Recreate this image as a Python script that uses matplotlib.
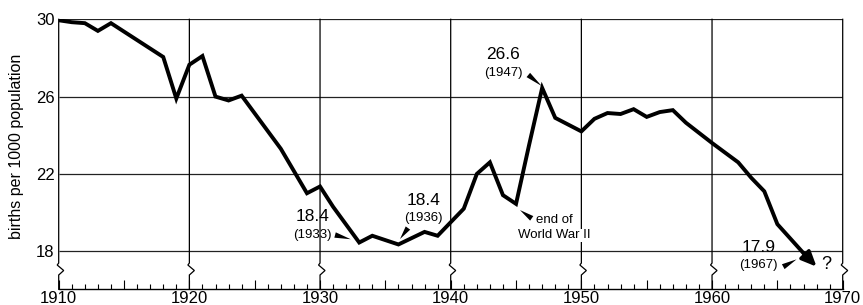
import matplotlib
matplotlib.use("Agg")
import matplotlib.pyplot as plt

plt.rcParams['font.family'] = ['Liberation Sans', 'DejaVu Sans']

# Birth rate, births per 1000 population
years = [1910, 1911, 1912, 1913, 1914, 1918, 1919, 1920, 1921, 1922, 1923, 1924,
         1927, 1929, 1930, 1931, 1933, 1934, 1936, 1938, 1939, 1941, 1942, 1943,
         1944, 1945, 1946, 1947, 1948, 1950, 1951, 1952, 1953, 1954, 1955, 1956,
         1957, 1958, 1960, 1962, 1963, 1964, 1965, 1966, 1967]
rate = [29.95, 29.85, 29.8, 29.4, 29.8, 28.05, 25.9, 27.65, 28.1, 26.0, 25.8, 26.05,
        23.3, 21.0, 21.35, 20.3, 18.45, 18.8, 18.35, 19.0, 18.8, 20.2, 22.0, 22.6,
        20.9, 20.45, 23.5, 26.45, 24.9, 24.2, 24.85, 25.15, 25.1, 25.35, 24.95, 25.2,
        25.3, 24.65, 23.6, 22.6, 21.8, 21.1, 19.4, 18.65, 17.9]
trend_tip = (1968.0, 17.2)   # where the arrow ("?") points

y_ticks = [18, 22, 26, 30]
x_labels = [1910, 1920, 1930, 1940, 1950, 1960, 1970]

y_bottom = 16.03
px_x = 1 / 13.067   # one pixel in years
px_y = 1 / 19.33    # one pixel in rate units

fig = plt.figure(figsize=(8.63, 3.05), dpi=100)
ax = fig.add_axes([58.7 / 863, 1 - 289.3 / 305, 784 / 863, 270 / 305])
ax.set_xlim(1910, 1970)
ax.set_ylim(y_bottom, 30)
for s in ax.spines.values():
    s.set_visible(False)

# horizontal grid lines
for y in y_ticks:
    ax.plot([1910, 1970], [y, y], color='#222222', lw=0.9, zorder=1,
            solid_capstyle='butt')
# bottom axis line
ax.plot([1910, 1970], [y_bottom, y_bottom], color='black', lw=1.0, zorder=2,
        clip_on=False, solid_capstyle='projecting')

# vertical lines with break marks
y0 = 17.39
for x in x_labels:
    xs = [x, x, x - 1.5 * px_x, x + 5 * px_x, x, x]
    ys = [30, y0, y0 - 2 * px_y, y0 - 7.5 * px_y, y0 - 12 * px_y, y_bottom]
    ax.plot(xs, ys, color='black', lw=0.9, zorder=1, clip_on=False,
            solid_joinstyle='miter')

# data line
ax.plot(years, rate, color='black', lw=2.8, solid_joinstyle='miter', zorder=5)
ax.annotate('', xy=trend_tip, xytext=(years[-1], rate[-1]),
            arrowprops=dict(arrowstyle='-|>,head_length=0.9,head_width=0.4',
                            lw=2.5, color='black', shrinkA=0, shrinkB=0),
            zorder=5)

# ticks
ax.set_xticks(range(1910, 1971, 5))
ax.set_xticklabels([str(v) if v % 10 == 0 else '' for v in range(1910, 1971, 5)],
                   fontsize=12)
ax.set_xticks(range(1910, 1971), minor=True)
ax.tick_params(axis='x', which='major', direction='in', length=6.5, width=0.8,
               pad=1.5, color='black')
ax.tick_params(axis='x', which='minor', direction='in', length=3.6, width=0.8,
               color='black')
ax.set_yticks(y_ticks)
ax.set_yticklabels([str(v) for v in y_ticks], fontsize=12)
ax.tick_params(axis='y', length=0, pad=3)

fig.text(17 / 863, 1 - 146.5 / 305, 'births per 1000 population', rotation=90,
         ha='center', va='center', fontsize=11.5)

# annotations
big, small = 12.5, 9.5
labels = [
    ('18.4', '(1933)', (1929.4, 19.79), (1929.4, 18.84)),
    ('18.4', '(1936)', (1937.9, 20.65), (1937.9, 19.70)),
    ('26.6', '(1947)', (1944.0, 28.19), (1944.0, 27.24)),
    ('17.9', '(1967)', (1963.54, 18.20), (1963.54, 17.29)),
]
for v, yr, p1, p2 in labels:
    ax.text(*p1, v, fontsize=big, ha='center', va='center', zorder=6)
    ax.text(*p2, yr, fontsize=small, ha='center', va='center', zorder=6)

pointers = [
    ((1931.15, 18.84), (1932.35, 18.62)),
    ((1936.73, 19.20), (1936.12, 18.63)),
    ((1945.94, 27.12), (1946.96, 26.55)),
    ((1946.20, 19.70), (1945.30, 20.13)),
    ((1965.45, 17.20), (1966.47, 17.58)),
]
for tail, head in pointers:
    ax.annotate('', xy=head, xytext=tail,
                arrowprops=dict(arrowstyle='wedge,tail_width=0.4', color='black',
                                lw=0, shrinkA=0, shrinkB=0), zorder=6)

ax.text(1947.9, 19.62, 'end of', fontsize=9.5, ha='center', va='center', zorder=6)
ax.text(1947.9, 18.82, 'World War II', fontsize=9.5, ha='center', va='center',
        zorder=6, bbox=dict(facecolor='white', edgecolor='none', pad=0.5))
ax.text(1968.77, 17.29, '?', fontsize=13, ha='center', va='center', zorder=6)

fig.savefig('out.png', dpi=100)
